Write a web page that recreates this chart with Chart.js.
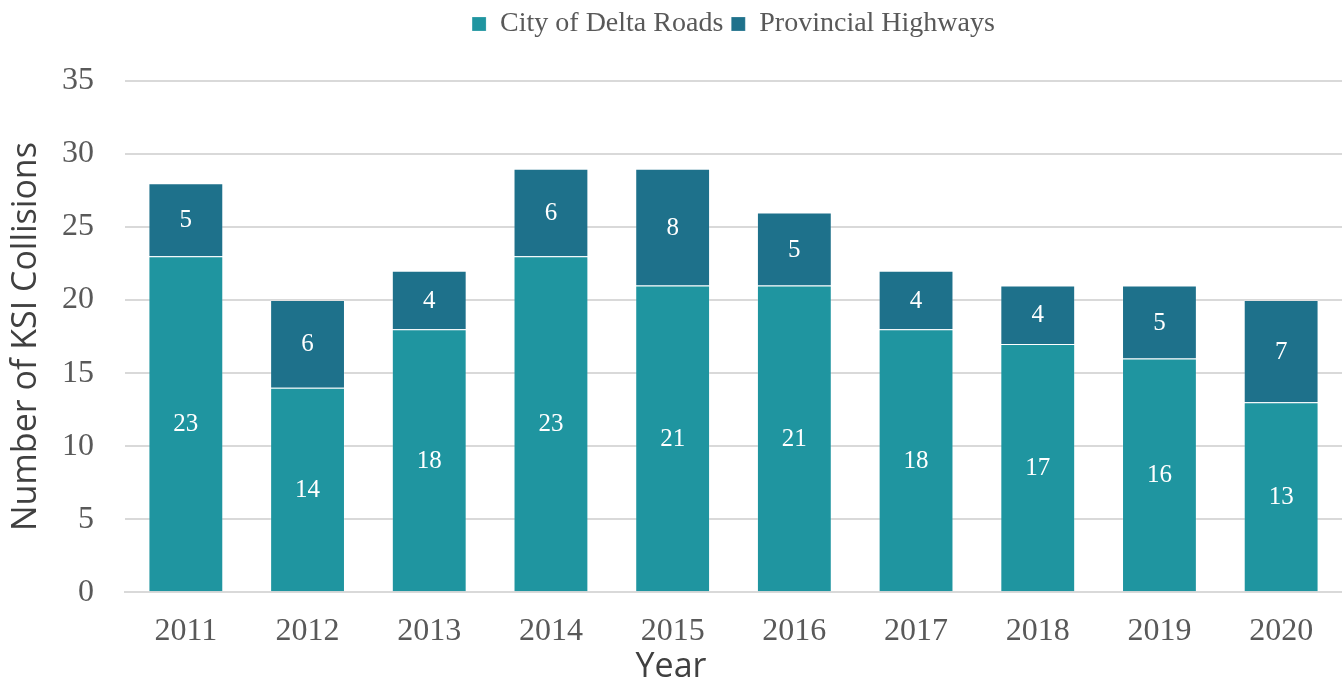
<!DOCTYPE html>
<html>
<head>
<meta charset="utf-8">
<script src="https://cdn.jsdelivr.net/npm/chart.js@4/dist/chart.umd.min.js"></script>
<style>
    html, body { margin: 0; padding: 0; background: #fff; }
    #wrap { width: 1342px; height: 685px; position: relative; }
</style>
</head>
<body>
<div id="wrap"><canvas id="ksiChart"></canvas></div>
<script>
const years = ['2011', '2012', '2013', '2014', '2015', '2016', '2017', '2018', '2019', '2020'];
const cityRoads = [23, 14, 18, 23, 21, 21, 18, 17, 16, 13];
const provincialHighways = [5, 6, 4, 6, 8, 5, 4, 4, 5, 7];
const yTicks = [0, 5, 10, 15, 20, 25, 30, 35];

const serif = "'Liberation Serif', 'DejaVu Serif', serif";
const sans = "'Open Sans', 'Noto Sans', sans-serif";

// draws the value in the middle of every bar segment
const segmentLabels = {
    id: 'segmentLabels',
    afterDatasetsDraw(chart) {
        const ctx = chart.ctx;
        ctx.save();
        ctx.fillStyle = '#ffffff';
        ctx.font = '25px ' + serif;
        ctx.textAlign = 'center';
        ctx.textBaseline = 'middle';
        chart.data.datasets.forEach((ds, i) => {
            chart.getDatasetMeta(i).data.forEach((bar, j) => {
                const mid = (bar.y + bar.base) / 2;
                ctx.fillText(ds.data[j], bar.x, mid + 1);
            });
        });
        ctx.restore();
    }
};

// leave some room under the legend
const legendGap = {
    id: 'legendGap',
    beforeInit(chart) {
        const fit = chart.legend.fit;
        chart.legend.fit = function () {
            fit.bind(chart.legend)();
            this.height += 33;
        };
    }
};

document.addEventListener('DOMContentLoaded', () => {
    const ctx = document.getElementById('ksiChart').getContext('2d');

    new Chart(ctx, {
        type: 'bar',
        data: {
            labels: years,
            datasets: [{
                label: 'City of Delta Roads',
                data: cityRoads,
                backgroundColor: '#1f95a0',
                borderColor: 'rgba(255,255,255,0.2)',
                borderWidth: 1,
                barPercentage: 0.615,
                categoryPercentage: 1,
            }, {
                label: 'Provincial Highways',
                data: provincialHighways,
                backgroundColor: '#1e718b',
                borderColor: 'rgba(255,255,255,0.2)',
                borderWidth: 1,
                barPercentage: 0.615,
                categoryPercentage: 1,
            }]
        },
        options: {
            responsive: true,
            maintainAspectRatio: false,
            animation: false,
            layout: { padding: { top: 2 } },
            plugins: {
                legend: {
                    position: 'top',
                    fullSize: false,
                    labels: {
                        boxWidth: 14,
                        boxHeight: 14,
                        padding: 8,
                        color: '#595959',
                        font: { family: serif, size: 28 },
                    }
                },
                // x axis title, centred on the whole canvas
                title: {
                    display: true,
                    position: 'bottom',
                    text: 'Year',
                    color: '#404040',
                    font: { family: sans, size: 34, weight: 'normal' },
                    padding: { top: 3, bottom: -3 },
                },
                tooltip: { enabled: false }
            },
            scales: {
                x: {
                    stacked: true,
                    afterFit: (axis) => { axis.height = 52; },
                    grid: { display: false },
                    border: { color: '#d9d9d9', width: 2 },
                    ticks: {
                        color: '#595959',
                        font: { family: serif, size: 32 },
                        padding: 12,
                    }
                },
                y: {
                    stacked: true,
                    min: 0,
                    max: 35,
                    afterFit: (axis) => { axis.width = 125; },
                    afterBuildTicks: (axis) => {
                        axis.ticks = yTicks.map(v => ({ value: v }));
                    },
                    grid: { color: '#d9d9d9', lineWidth: 2, drawTicks: false },
                    border: { display: false },
                    ticks: {
                        color: '#595959',
                        font: { family: serif, size: 32 },
                        padding: 31,
                    },
                    title: {
                        display: true,
                        text: 'Number of KSI Collisions',
                        color: '#404040',
                        font: { family: sans, size: 34 },
                        padding: { top: 6, bottom: 0 },
                    }
                }
            }
        },
        plugins: [segmentLabels, legendGap]
    });
});
</script>
</body>
</html>
